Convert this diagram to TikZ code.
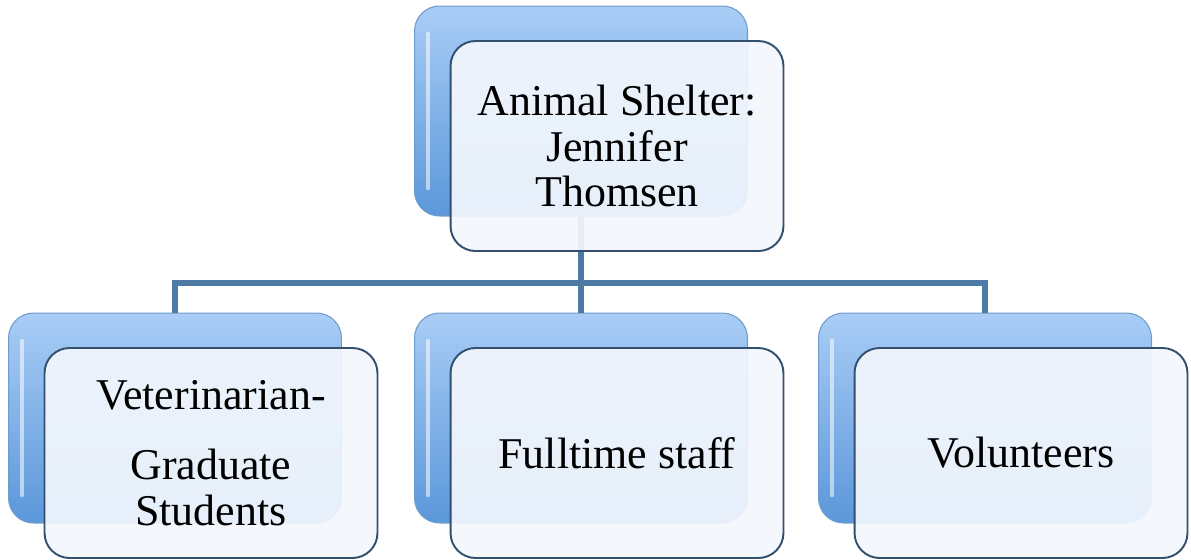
\documentclass[tikz,border=0pt]{standalone}
\usepackage{fontspec}
\setmainfont{Liberation Serif}
\usetikzlibrary{positioning,calc}

\definecolor{backtop}{HTML}{A9CDF6}
\definecolor{backbot}{HTML}{5B97DA}
\definecolor{backline}{HTML}{6E9CCB}
\definecolor{frontfill}{HTML}{F3F7FD}
\definecolor{frontline}{HTML}{34506F}
\definecolor{linkblue}{HTML}{4E7BA6}

\tikzset{
    backbox/.style={rounded corners=0.5cm, minimum width=6.66cm, minimum height=4.2cm,
        top color=backtop, bottom color=backbot, draw=backline, line width=0.6pt},
    frontbox/.style={rounded corners=0.5cm, minimum width=6.66cm, minimum height=4.2cm,
        fill=frontfill, fill opacity=0.92, text opacity=1, draw=frontline, line width=1.1pt,
        align=center, font=\fontsize{25}{26}\selectfont},
    link/.style={draw=linkblue, line width=3.2pt}
}

\begin{document}
\begin{tikzpicture}[x=0.02cm, y=-0.02cm]
    \useasboundingbox (0,0) rectangle (1191,559);
    % back boxes
    \node[backbox] (shelterb) at (581,111) {};
    \node[backbox] (vetb) at (175,418) {};
    \node[backbox] (staffb) at (581,418) {};
    \node[backbox] (volb) at (985,418) {};
    % connectors
    \draw[link] (shelterb.south) -- (581,283) coordinate (hub);
    \draw[link] (vetb.north) |- (hub) -| (volb.north);
    \draw[link] (hub) -- (staffb.north);
    % inner highlights
    \foreach \b in {shelterb,vetb,staffb,volb} {
        \draw[white, opacity=0.55, line width=2pt, line cap=round]
            ($(\b.north west)+(14,28)$) -- ($(\b.south west)+(14,-28)$);
    }
    % front boxes
    \node[frontbox] (shelter) at ([shift={(36,35)}]shelterb) {Animal Shelter:\\ Jennifer\\ Thomsen};
    \node[frontbox] (vet) at ([shift={(36,35)}]vetb) {Veterinarian-\\[14pt] Graduate\\ Students};
    \node[frontbox] (staff) at ([shift={(36,35)}]staffb) {Fulltime staff};
    \node[frontbox] (vol) at ([shift={(36,35)}]volb) {Volunteers};
\end{tikzpicture}
\end{document}
